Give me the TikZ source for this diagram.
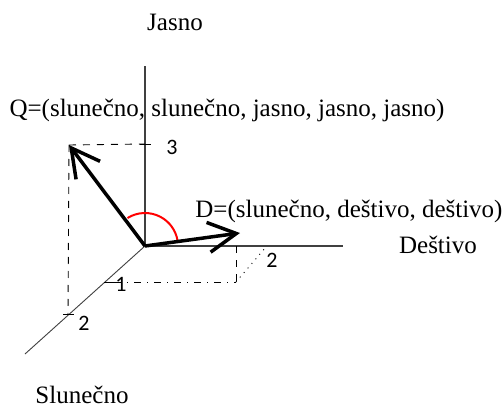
\documentclass[tikz,border=0pt]{standalone}
\usepackage{fontspec}
\setmainfont{Liberation Serif}
\newfontfamily\numfont{Carlito}
\usetikzlibrary{arrows.meta}
\tikzset{
  axis/.style={black!75, line width=1.2pt},
  vec/.style={line width=3.5pt, -{Straight Barb[length=28pt, width=30pt, line width=3.5pt]}},
  lbl/.style={font=\fontsize{25}{28}\selectfont, inner sep=0pt},
  num/.style={font=\numfont\fontsize{22}{24}\selectfont, inner sep=0pt},
  guide/.style={line width=0.9pt, dash pattern=on 7pt off 7pt}
}
\begin{document}
\begin{tikzpicture}[x=1pt, y=1pt]
\useasboundingbox (0,0) rectangle (504,408);
\coordinate (O) at (145,162);
\coordinate (J) at (145,342);
\coordinate (R) at (343,162);
\coordinate (S) at (25,54);
\coordinate (Qt) at (69,263);
\coordinate (Dt) at (240,175);
\coordinate (t3) at (145,264);
\coordinate (t1) at (108,126);
\coordinate (t2) at (68,94);
\coordinate (Df) at (236,126);
\coordinate (Dx) at (236,162);
\coordinate (t2r) at (266,161);
\node[lbl] (q) at (227,298) {Q=(slunečno, slunečno, jasno, jasno, jasno)};
\node[lbl] (d) at (349,197) {D=(slunečno, deštivo, deštivo)};
\node[lbl] (jasno) at (175,386) {Jasno};
\node[lbl] (destivo) at (438,163) {Deštivo};
\node[lbl] (slun) at (82,13) {Slunečno};
\node[num] (n3) at (172,261) {3};
\node[num] (n2r) at (272,148) {2};
\node[num] (n1) at (121,124) {1};
\node[num] (n2s) at (84,85) {2};
\draw[axis] (O) -- (J);
\draw[axis] (O) -- (R);
\draw[black!75, line width=0.9pt] (O) -- (S);
\foreach \t in {t3, t2}
  \draw[line width=0.9pt] ([xshift=-5pt]\t) -- ([xshift=6pt]\t);
\draw[line width=0.9pt] ([xshift=-4pt]t1) -- ([xshift=6pt]t1);
\draw[guide] (Qt) -- (t3);
\draw[guide] (Qt) -- (t2);
\draw[guide] (Dx) -- (Df);
\draw[line width=0.9pt, dash pattern=on 7pt off 6pt on 1pt off 6pt] ([xshift=6pt]t1) -- (Df);
\draw[line width=0.9pt, dash pattern=on 1pt off 5pt] (Df) -- (t2r);
\draw[red, line width=2pt] ([shift={(122:33)}]O) arc[start angle=122, end angle=10, radius=33];
\draw[vec] (O) -- (Qt);
\draw[vec] (O) -- (Dt);
\end{tikzpicture}
\end{document}
